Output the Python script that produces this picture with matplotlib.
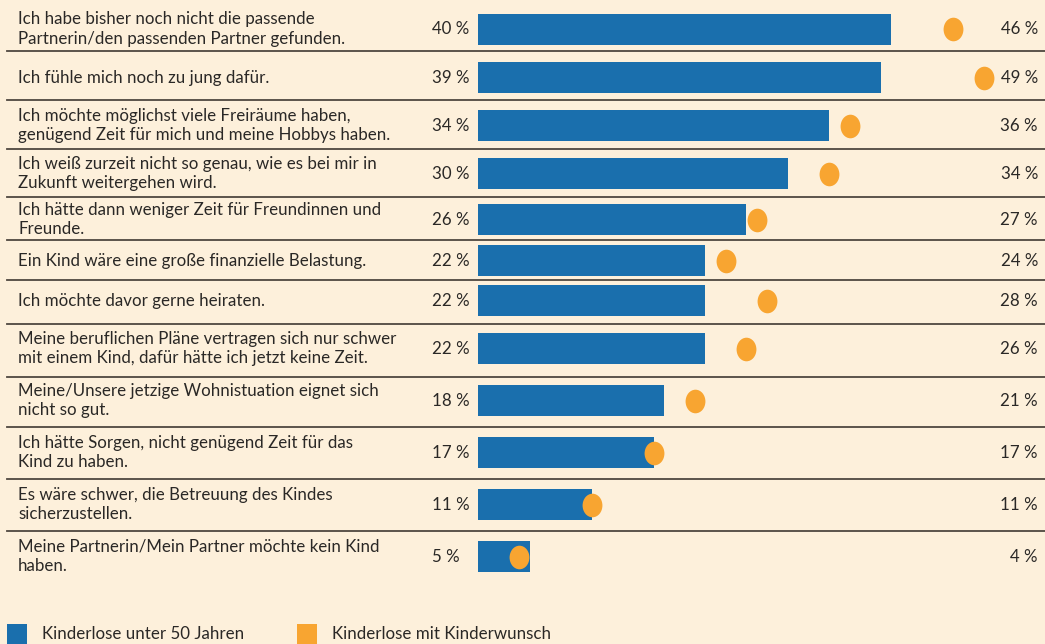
import matplotlib.pyplot as plt
import matplotlib.transforms as mtransforms
from matplotlib.patches import Rectangle
from matplotlib.path import Path
import numpy as np

# Data from the chart
labels = [
    'Ich habe bisher noch nicht die passende\nPartnerin/den passenden Partner gefunden.',
    'Ich fühle mich noch zu jung dafür.',
    'Ich möchte möglichst viele Freiräume haben,\ngenügend Zeit für mich und meine Hobbys haben.',
    'Ich weiß zurzeit nicht so genau, wie es bei mir in\nZukunft weitergehen wird.',
    'Ich hätte dann weniger Zeit für Freundinnen und\nFreunde.',
    'Ein Kind wäre eine große finanzielle Belastung.',
    'Ich möchte davor gerne heiraten.',
    'Meine beruflichen Pläne vertragen sich nur schwer\nmit einem Kind, dafür hätte ich jetzt keine Zeit.',
    'Meine/Unsere jetzige Wohnistuation eignet sich\nnicht so gut.',
    'Ich hätte Sorgen, nicht genügend Zeit für das\nKind zu haben.',
    'Es wäre schwer, die Betreuung des Kindes\nsicherzustellen.',
    'Meine Partnerin/Mein Partner möchte kein Kind\nhaben.',
]
kinderlose_u50 = [40, 39, 34, 30, 26, 22, 22, 22, 18, 17, 11, 5]
kinderwunsch = [46, 49, 36, 34, 27, 24, 28, 26, 21, 17, 11, 4]
legend_labels = ['Kinderlose unter 50 Jahren', 'Kinderlose mit Kinderwunsch']

# Layout (pixel rows of the 1045x644 picture)
W, H = 1045, 644
row_centers = [29, 77.5, 125.5, 173.5, 219.5, 260.5, 300.5, 348.5, 400.5, 452.5, 504.5, 556.5]
separators = [51, 100, 149, 197, 240, 280, 324, 377, 427, 479, 531]
bar_left_px = 478
px_per_pct = 10.325

blue = '#1A6FAD'
orange = '#F8A531'
bg = '#FDF0DB'
text_color = '#2A2826'
line_color = '#4E473F'

plt.rcParams['font.family'] = ['Lato', 'DejaVu Sans']

fig = plt.figure(figsize=(W / 100, H / 100), dpi=100)
fig.patch.set_facecolor(bg)
ax = fig.add_axes([bar_left_px / W, 0, 1 - bar_left_px / W, 1])
ax.set_xlim(0, (W - bar_left_px) / px_per_pct)
ax.set_ylim(H, 0)
ax.axis('off')

trans = mtransforms.blended_transform_factory(fig.transFigure, ax.transData)

# bars
ax.barh(row_centers, kinderlose_u50, height=31, color=blue, left=0)

# dots (slightly taller than wide, like the original)
circ = Path.unit_circle()
ell = Path(circ.vertices * np.array([0.84, 1.0]), circ.codes)
ax.scatter(kinderwunsch, row_centers, marker=ell, s=17 ** 2, color=orange,
           zorder=3, linewidths=0)

fs = 12.2
for lab, y, v1, v2 in zip(labels, row_centers, kinderlose_u50, kinderwunsch):
    ax.text(18 / W, y, lab, transform=trans, ha='left', va='center',
            fontsize=fs, color=text_color, linespacing=1.3)
    ax.text(432 / W, y, f'{v1} %', transform=trans, ha='left', va='center',
            fontsize=fs, color=text_color)
    ax.text(1038 / W, y, f'{v2} %', transform=trans, ha='right', va='center',
            fontsize=fs, color=text_color)

for y in separators:
    ax.plot([7 / W, 1], [y, y], transform=trans, color=line_color,
            linewidth=1.3, clip_on=False)

# legend
for x0, col, lab in [(7, blue, legend_labels[0]), (297, orange, legend_labels[1])]:
    fig.patches.append(Rectangle((x0 / W, 0), 20 / W, 20 / H, transform=fig.transFigure,
                                 facecolor=col, edgecolor='none'))
    fig.text((x0 + 35) / W, 10 / H, lab, ha='left', va='center',
             fontsize=fs, color=text_color)

plt.savefig('out.png', dpi=100, facecolor=bg)
